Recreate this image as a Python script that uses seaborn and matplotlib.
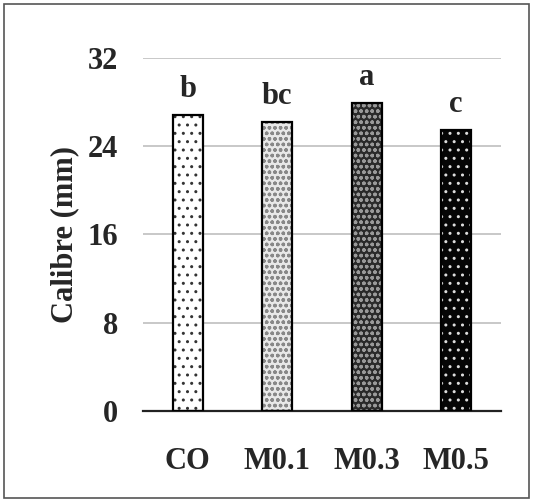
import matplotlib
matplotlib.use("Agg")
import matplotlib.pyplot as plt
import seaborn as sns
import pandas as pd
from matplotlib.patches import Rectangle

categories = ["CO", "M0.1", "M0.3", "M0.5"]
calibre = [26.8, 26.2, 27.9, 25.5]
letters = ["b", "bc", "a", "c"]
yticks = [0, 8, 16, 24, 32]

face_colors = ["#ffffff", "#e8e8e8", "#2a2a2a", "#050505"]
hatch_colors = ["#333333", "#888888", "#999999", "#dddddd"]
hatches = ["..", "ooo", "ooo", ".."]

sns.set_theme(style="white")
plt.rcParams["font.family"] = ["Liberation Serif", "DejaVu Serif"]
plt.rcParams["hatch.linewidth"] = 1.0

df = pd.DataFrame({"cat": categories, "val": calibre})

fig = plt.figure(figsize=(5.34, 5.01), dpi=100)
ax = fig.add_axes([0.268, 0.18, 0.67, 0.704])

sns.barplot(data=df, x="cat", y="val", ax=ax, width=0.34, color="white",
            linewidth=0, zorder=2)
for p, fc, hc, h in zip(ax.patches, face_colors, hatch_colors, hatches):
    p.set_facecolor(fc)
    p.set_edgecolor(hc)
    p.set_hatch(h)
    p.set_linewidth(0)
    p.set_zorder(2)

sns.barplot(data=df, x="cat", y="val", ax=ax, width=0.34, fill=False,
            edgecolor="black", linewidth=1.6, zorder=3)

fs = 22
ax.set_ylim(0, 32)
ax.set_yticks(yticks)
ax.set_yticklabels([str(t) for t in yticks])
ax.yaxis.grid(True, color="#c8c8c8", linewidth=1.4, zorder=0)
ax.set_axisbelow(True)
for s in ["left", "right", "top"]:
    ax.spines[s].set_visible(False)
ax.spines["bottom"].set_color("#222222")
ax.spines["bottom"].set_linewidth(1.6)
ax.tick_params(axis="both", length=0, labelsize=fs)
for lbl in ax.get_xticklabels() + ax.get_yticklabels():
    lbl.set_fontweight("bold")
ax.tick_params(axis="y", pad=18)
ax.tick_params(axis="x", pad=26)
ax.set_xlabel("")
ax.set_ylabel("Calibre (mm)", fontsize=fs, fontweight="bold", labelpad=6)

for i, (v, l) in enumerate(zip(calibre, letters)):
    ax.annotate(l, (i, v), xytext=(0, 8), textcoords="offset points",
                ha="center", va="bottom", fontsize=fs, fontweight="bold")

fig.patches.append(Rectangle((0.008, 0.006), 0.982, 0.986, transform=fig.transFigure,
                             fill=False, edgecolor="#555555", linewidth=1.2))

fig.savefig("out.png", dpi=100)
